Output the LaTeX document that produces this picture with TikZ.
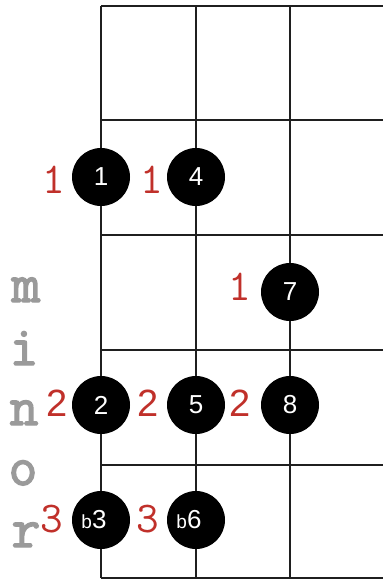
\documentclass[tikz,border=0pt]{standalone}
\usepackage{fontspec}
\setmainfont{Liberation Sans}
\newfontfamily\typew[FakeBold=2.5]{Latin Modern Mono}
\definecolor{fing}{HTML}{C0302A}
\definecolor{letg}{HTML}{9A9A9A}
\begin{document}
\begin{tikzpicture}[x=1pt,y=-1pt,
  gridline/.style={line width=2pt, draw=black!88},
  dot/.style={circle, fill=black, minimum size=58pt, inner sep=0pt},
  dotlbl/.style={text=white, inner sep=0pt, font=\fontsize{26}{26}\selectfont},
  flatlbl/.style={text=white, inner sep=0pt, font=\fontsize{26}{26}\selectfont, xshift=-7pt},
  fnum/.style={text=fing, inner sep=0pt, anchor=base, font=\ttfamily\fontsize{44}{44}\selectfont},
  fnumb/.style={text=fing, inner sep=0pt, anchor=base, font=\fontsize{38}{38}\selectfont},
  letter/.style={text=letg, inner sep=0pt, anchor=base, font=\typew\fontsize{56}{56}\selectfont}]
\useasboundingbox (0,0) rectangle (383,580);
% grid
\foreach \x in {101,196,290} \draw[gridline] (\x,6) -- (\x,578);
\foreach \y in {6,120,235,350,465,578} \draw[gridline] (101,\y) -- (383,\y);
% word
\node[letter] (lm) at (26,302) {m};
\node[letter] (li) at (24,365) {i};
\node[letter] (ln) at (24,425) {n};
\node[letter] (lo) at (23,485) {o};
\node[letter] (lr) at (26,547) {r};
% dots
\node[dot] (d1) at (101,177) {};
\node[dot] (d4) at (196,177) {};
\node[dot] (d7) at (290,292) {};
\node[dot] (d2) at (101,405) {};
\node[dot] (d5) at (196,405) {};
\node[dot] (d8) at (290,405) {};
\node[dot] (d3) at (101,520) {};
\node[dot] (d6) at (196,520) {};
\node[dotlbl] at (d1) {1};
\node[dotlbl] at (d4) {4};
\node[dotlbl] at (d7) {7};
\node[dotlbl] at (d2) {2};
\node[dotlbl] at (d5) {5};
\node[dotlbl] at (d8) {8};
\node[flatlbl] at (d3) {{\fontsize{19}{19}\selectfont b}3};
\node[flatlbl] at (d6) {{\fontsize{19}{19}\selectfont b}6};
% fingers
\node[fnum] (f1) at (54,193) {1};
\node[fnum] (f4) at (152,193) {1};
\node[fnum] (f7) at (240,300) {1};
\node[fnumb] (f2) at (57,416) {2};
\node[fnumb] (f5) at (148,416) {2};
\node[fnumb] (f8) at (240,416) {2};
\node[fnum] (f3) at (52,532) {3};
\node[fnum] (f6) at (148,532) {3};
\end{tikzpicture}
\end{document}
